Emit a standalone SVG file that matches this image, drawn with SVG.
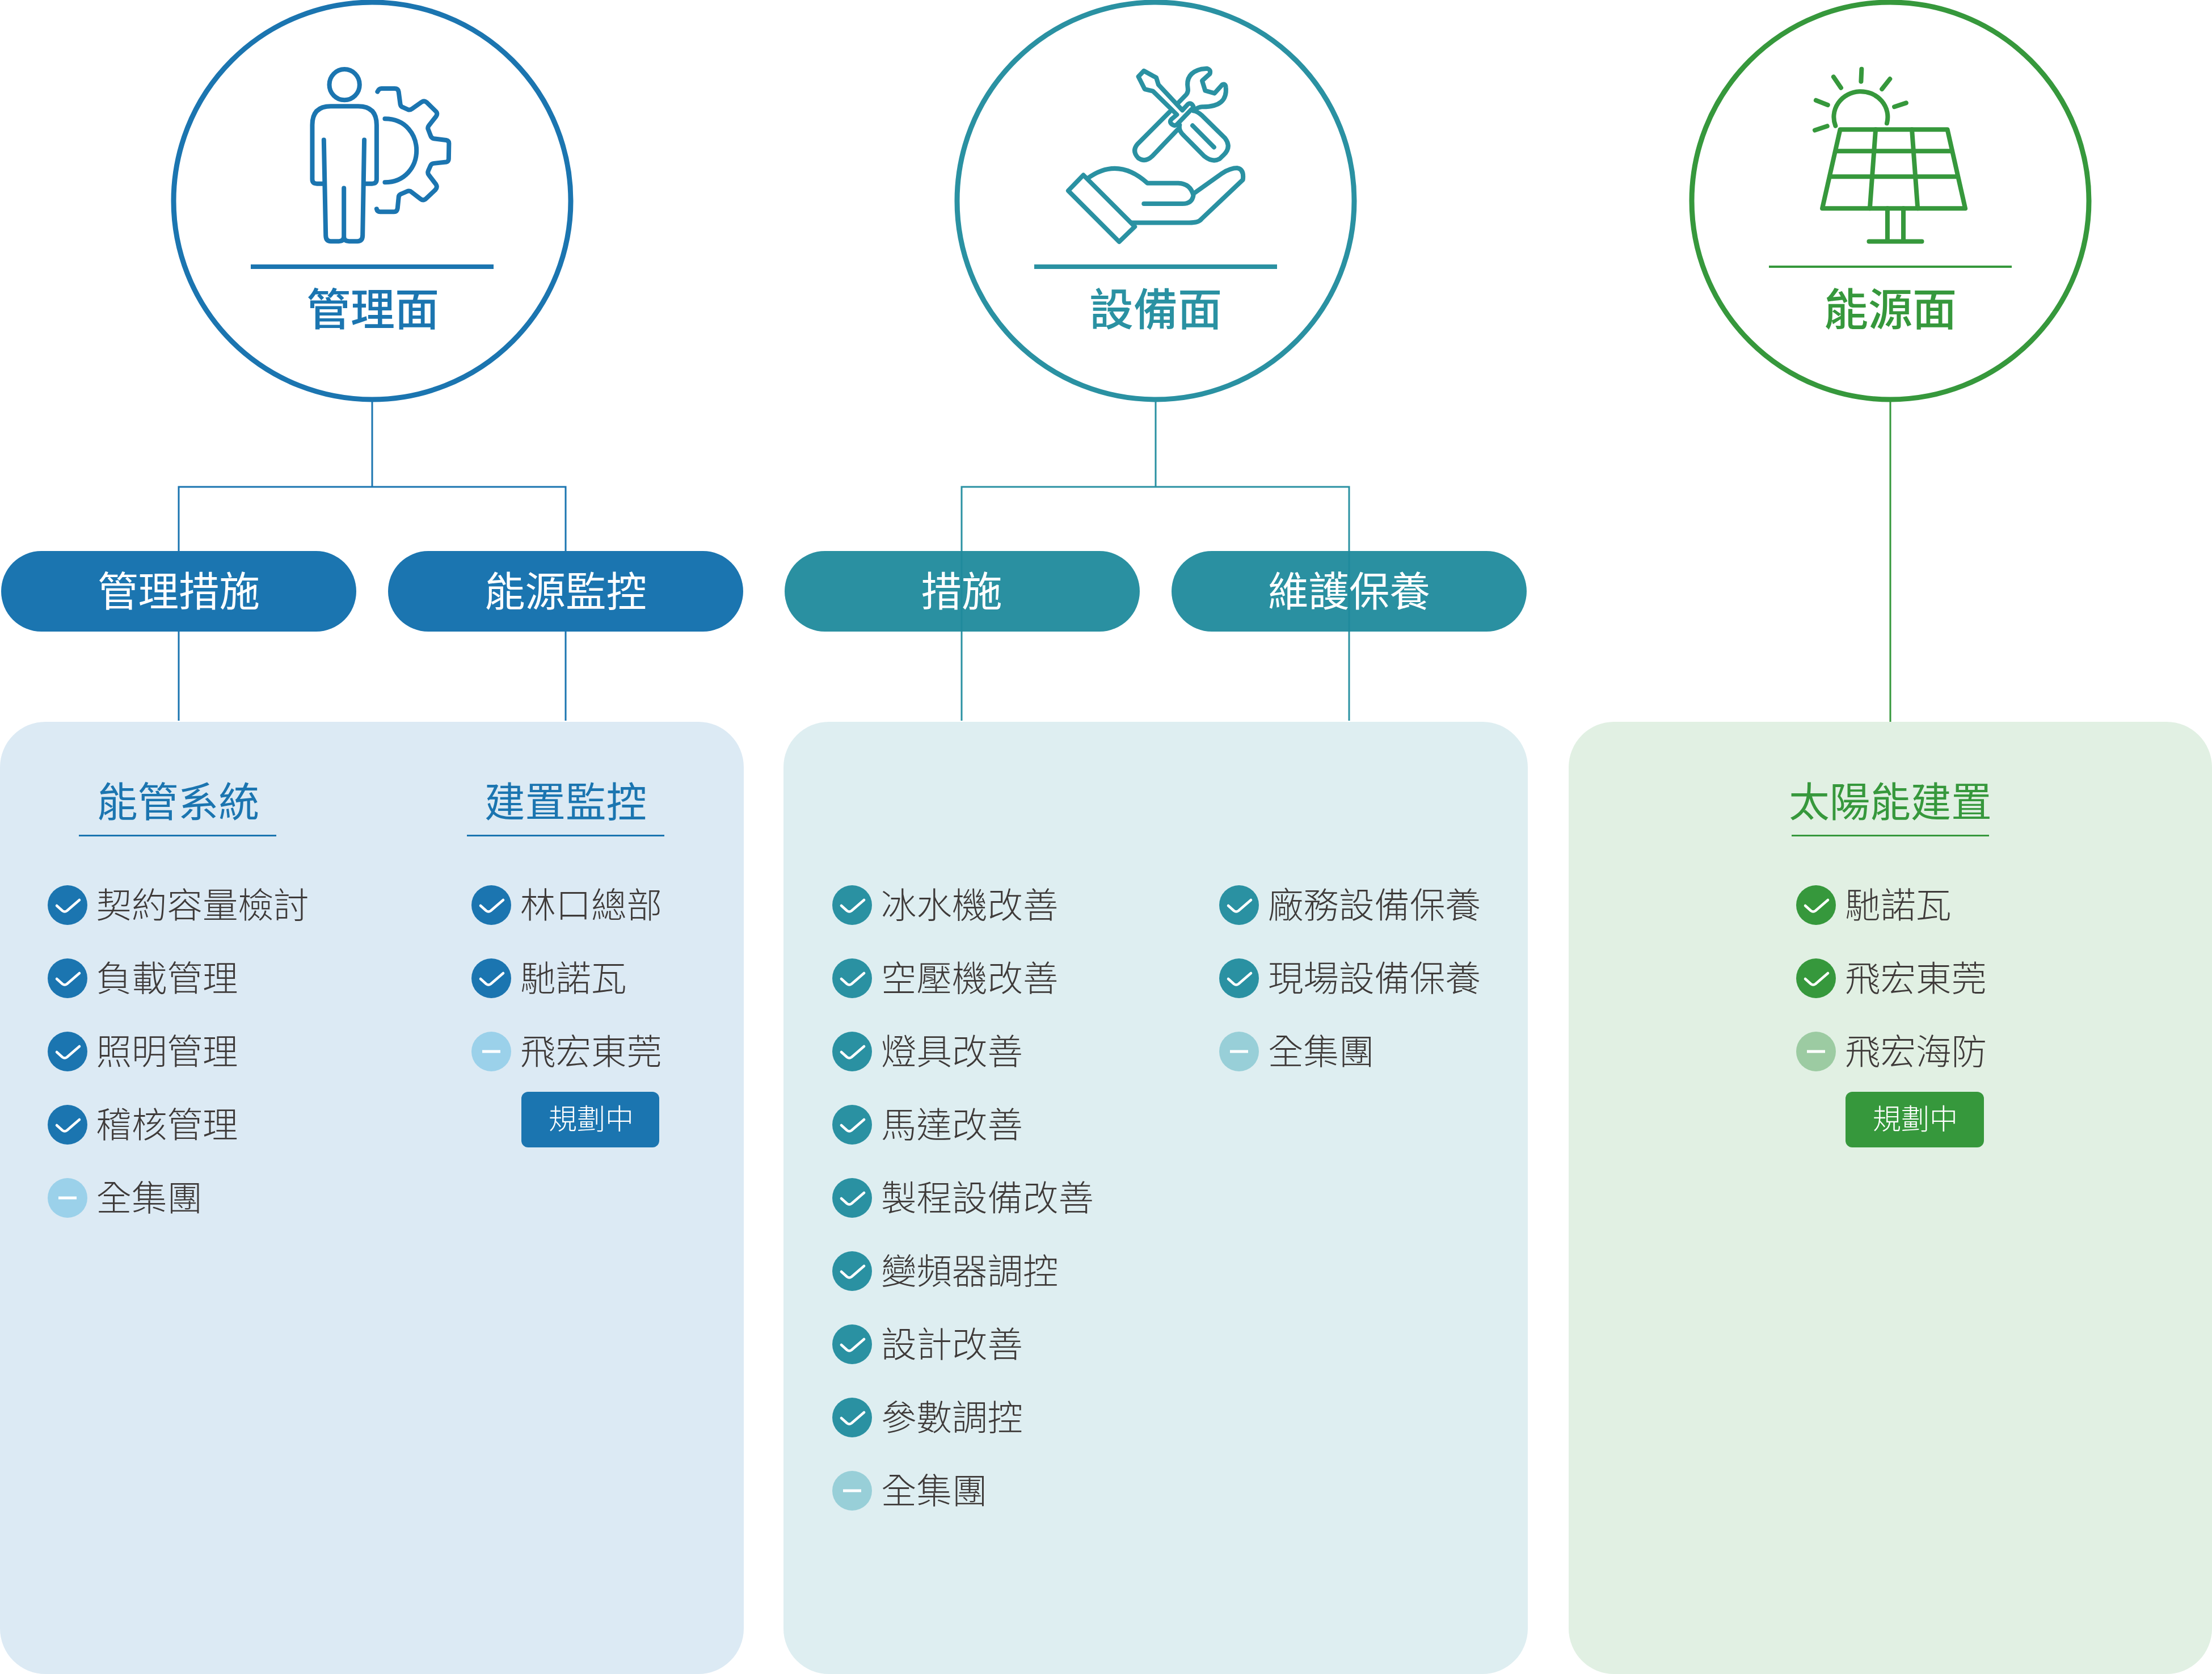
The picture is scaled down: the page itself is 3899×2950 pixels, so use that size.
<svg xmlns="http://www.w3.org/2000/svg" width="3899" height="2950" viewBox="0 0 3899 2950">
<style>
text{font-family:"Noto Sans CJK TC","Noto Sans CJK SC",sans-serif}
.title{font-size:78px;font-weight:500;text-anchor:middle}
.pilltx{font-size:71.5px;font-weight:400;fill:#fff;text-anchor:middle}
.head{font-size:71.5px;font-weight:400;text-anchor:middle}
.item{font-size:62.5px;font-weight:300;fill:#3e3a39}
.tagtx{font-size:50px;font-weight:300;fill:#fff;text-anchor:middle}
.blue{fill:#1b75b0}.teal{fill:#2a91a2}.green{fill:#36983c}
.tealpill{fill:#1f8a9c;fill-opacity:.95}
.lblue{fill:#9bd1ea}.lteal{fill:#98cfd8}.lgreen{fill:#9ccba2}
.ring{fill:#fff;stroke-width:9}
.s-blue{stroke:#1b75b0}.s-teal{stroke:#2a91a2}.s-green{stroke:#36983c}
.conn{fill:none;stroke-width:3}
.icon{fill:none;stroke-width:8;stroke-linecap:round;stroke-linejoin:round}
.icon *{vector-effect:non-scaling-stroke}
.glyph{fill:none;stroke:#fff;stroke-width:4.5;stroke-linecap:round;stroke-linejoin:round}
</style>
<defs>
<g id="chk"><path class="glyph" d="M-19 1L-9 10Q-5 13 -1 10L21 -9"/></g>
<rect id="min" x="-16" y="-2.5" width="32" height="5" fill="#fff"/>
</defs>
<g id="connectors">
<path class="conn s-blue" d="M656 708V858M315 1270V858H997V1270"/>
<path class="conn s-teal" d="M2037 708V858M1695 1270V858H2378V1270"/>
<path class="conn s-green" d="M3332 708V1272"/>
</g>
<g id="panel-mgmt"><rect x="0" y="1272" width="1311" height="1678" rx="80" fill="#dceaf4"/></g>
<g id="panel-equip"><rect x="1381" y="1272" width="1312" height="1678" rx="80" fill="#deeef1"/></g>
<g id="panel-energy"><rect x="2765" y="1272" width="1134" height="1678" rx="80" fill="#e1f0e3"/></g>
<g id="node-mgmt">
<circle class="ring s-blue" cx="656" cy="354" r="350"/>
<g class="icon s-blue" transform="translate(280 0) scale(.4847 .4591)">
<ellipse cx="675" cy="325" rx="55" ry="59"/>
<path d="M596 705H575Q558 705 558 688V480Q558 408 625 408H725Q792 408 792 480V688Q792 705 775 705H752"/>
<path d="M600 537L607 905Q608 926 625 926H655Q673 926 673 908V722M747 537L741 905Q740 926 722 926H692Q673 926 673 908"/>
<path d="M795 352Q800 340 810 340H858Q870 340 872 352L878 400Q880 410 888 412L905 420Q913 424 920 418L955 392Q965 385 973 392L1008 428Q1015 436 1008 447L982 482Q976 490 980 498L988 520Q991 530 1000 532L1045 538Q1055 540 1055 550L1054 610Q1054 620 1045 622L1000 627Q991 628 988 636L980 655Q976 665 982 672L1008 708Q1014 718 1006 728L972 762Q962 772 952 764L920 738Q912 730 902 735L882 744Q872 748 872 758L868 800Q866 813 855 813H805Q794 813 792 802"/>
<path d="M822 456C900 456 937 520 937 578C937 640 895 700 822 700"/>
</g>
<rect class="blue" x="442" y="466" width="428" height="8"/>
<text class="title blue" x="657" y="574">管理面</text>
</g>
<g id="node-equip">
<circle class="ring s-teal" cx="2037" cy="354" r="350"/>
<g class="icon s-teal" transform="translate(1660 0) scale(.4847 .4591)">
<path d="M875 423L788 325L780 298L735 272L715 294L738 342L768 350L855 440L835 458Q826 468 838 478Q848 485 855 478L908 420Q918 412 913 405Q905 392 895 400L875 423"/>
<path d="M860 395L890 362Q897 352 895 340Q885 280 945 265L965 263Q980 268 975 283L947 310L958 348L992 358L1020 325Q1032 320 1033 335Q1040 410 950 410Q935 408 915 425"/>
<path d="M828 430L712 553Q690 580 715 607Q740 625 765 600L858 497"/>
<path d="M915 425Q930 428 945 442L1030 530Q1055 565 1025 595L1010 610Q985 625 955 600L880 520Q860 500 865 480M912 482L990 565"/>
<path d="M515 672L460 732L645 928L702 870Z"/>
<path d="M530 685Q640 600 748 703H860Q905 705 915 750Q910 782 875 782H735"/>
<path d="M920 740L1020 665Q1050 645 1075 645Q1100 650 1095 690L945 840Q935 855 900 855H690"/>
</g>
<rect class="teal" x="1823" y="466" width="428" height="8"/>
<text class="title teal" x="2037" y="574">設備面</text>
</g>
<g id="node-energy">
<circle class="ring s-green" cx="3332" cy="354" r="350"/>
<g class="icon s-green" transform="translate(2960 0) scale(.4847 .4591)">
<path d="M568 483A98 98 0 1 1 755 473"/>
<path d="M663 265L661 313M561 295L588 337M766 303L737 342M497 385L540 403M825 395L782 410M538 484L493 500"/>
<path d="M585 497H975L1040 800H520Z"/>
<path d="M572 580H990M550 678H1010M714 497L693 800M846 497L867 800"/>
<path d="M757 800V925M815 800V925M690 927H882"/>
</g>
<rect class="green" x="3118" y="468" width="428" height="4"/>
<text class="title green" x="3332" y="574">能源面</text>
</g>
<g id="pill-mgmt-measures"><rect class="blue" x="2" y="971" width="626" height="142" rx="71"/><text class="pilltx" x="315" y="1068">管理措施</text></g>
<g id="pill-energy-monitor"><rect class="blue" x="684" y="971" width="626" height="142" rx="71"/><text class="pilltx" x="997" y="1068">能源監控</text></g>
<g id="pill-measures"><rect class="tealpill" x="1383" y="971" width="626" height="142" rx="71"/><text class="pilltx" x="1695" y="1068">措施</text></g>
<g id="pill-maintenance"><rect class="tealpill" x="2065" y="971" width="626" height="142" rx="71"/><text class="pilltx" x="2378" y="1068">維護保養</text></g>
<g id="head-ems"><text class="head blue" x="314" y="1439">能管系統</text><rect class="blue" x="139" y="1471" width="348" height="3"/></g>
<g id="head-monitor"><text class="head blue" x="997" y="1439">建置監控</text><rect class="blue" x="823" y="1471" width="348" height="3"/></g>
<g id="head-solar"><text class="head green" x="3332" y="1439">太陽能建置</text><rect class="green" x="3158" y="1471" width="348" height="3"/></g>
<g id="list-ems">
<g id="m1"><circle class="blue" cx="119" cy="1595" r="35"/><use href="#chk" x="119" y="1595"/><text class="item" x="169.500" y="1618">契約容量檢討</text></g>
<g id="m2"><circle class="blue" cx="119" cy="1724" r="35"/><use href="#chk" x="119" y="1724"/><text class="item" x="169.500" y="1747">負載管理</text></g>
<g id="m3"><circle class="blue" cx="119" cy="1853" r="35"/><use href="#chk" x="119" y="1853"/><text class="item" x="169.500" y="1875.500">照明管理</text></g>
<g id="m4"><circle class="blue" cx="119" cy="1982" r="35"/><use href="#chk" x="119" y="1982"/><text class="item" x="169.500" y="2004.500">稽核管理</text></g>
<g id="m5"><circle class="lblue" cx="119" cy="2111" r="35"/><use href="#min" x="119" y="2111"/><text class="item" x="169.500" y="2133.500">全集團</text></g>
</g>
<g id="list-monitor">
<g id="n1"><circle class="blue" cx="866" cy="1595" r="35"/><use href="#chk" x="866" y="1595"/><text class="item" x="917" y="1618">林口總部</text></g>
<g id="n2"><circle class="blue" cx="866" cy="1724" r="35"/><use href="#chk" x="866" y="1724"/><text class="item" x="917" y="1747">馳諾瓦</text></g>
<g id="n3"><circle class="lblue" cx="866" cy="1853" r="35"/><use href="#min" x="866" y="1853"/><text class="item" x="917" y="1875.500">飛宏東莞</text></g>
<g id="n4"><rect class="blue" x="919" y="1924" width="243" height="98" rx="12"/><text class="tagtx" x="1042" y="1990">規劃中</text></g>
</g>
<g id="list-measures">
<g id="e1"><circle class="teal" cx="1502" cy="1595" r="35"/><use href="#chk" x="1502" y="1595"/><text class="item" x="1553" y="1618">冰水機改善</text></g>
<g id="e2"><circle class="teal" cx="1502" cy="1724" r="35"/><use href="#chk" x="1502" y="1724"/><text class="item" x="1553" y="1747">空壓機改善</text></g>
<g id="e3"><circle class="teal" cx="1502" cy="1853" r="35"/><use href="#chk" x="1502" y="1853"/><text class="item" x="1553" y="1875.500">燈具改善</text></g>
<g id="e4"><circle class="teal" cx="1502" cy="1982" r="35"/><use href="#chk" x="1502" y="1982"/><text class="item" x="1553" y="2004.500">馬達改善</text></g>
<g id="e5"><circle class="teal" cx="1502" cy="2111" r="35"/><use href="#chk" x="1502" y="2111"/><text class="item" x="1553" y="2133.500">製程設備改善</text></g>
<g id="e6"><circle class="teal" cx="1502" cy="2240" r="35"/><use href="#chk" x="1502" y="2240"/><text class="item" x="1553" y="2262.500">變頻器調控</text></g>
<g id="e7"><circle class="teal" cx="1502" cy="2369" r="35"/><use href="#chk" x="1502" y="2369"/><text class="item" x="1553" y="2391.500">設計改善</text></g>
<g id="e8"><circle class="teal" cx="1502" cy="2498" r="35"/><use href="#chk" x="1502" y="2498"/><text class="item" x="1553" y="2520.500">參數調控</text></g>
<g id="e9"><circle class="lteal" cx="1502" cy="2627" r="35"/><use href="#min" x="1502" y="2627"/><text class="item" x="1553" y="2649.500">全集團</text></g>
</g>
<g id="list-maintenance">
<g id="f1"><circle class="teal" cx="2184" cy="1595" r="35"/><use href="#chk" x="2184" y="1595"/><text class="item" x="2235" y="1618">廠務設備保養</text></g>
<g id="f2"><circle class="teal" cx="2184" cy="1724" r="35"/><use href="#chk" x="2184" y="1724"/><text class="item" x="2235" y="1747">現場設備保養</text></g>
<g id="f3"><circle class="lteal" cx="2184" cy="1853" r="35"/><use href="#min" x="2184" y="1853"/><text class="item" x="2235" y="1875.500">全集團</text></g>
</g>
<g id="list-solar">
<g id="s1"><circle class="green" cx="3201" cy="1595" r="35"/><use href="#chk" x="3201" y="1595"/><text class="item" x="3252" y="1618">馳諾瓦</text></g>
<g id="s2"><circle class="green" cx="3201" cy="1724" r="35"/><use href="#chk" x="3201" y="1724"/><text class="item" x="3252" y="1747">飛宏東莞</text></g>
<g id="s3"><circle class="lgreen" cx="3201" cy="1853" r="35"/><use href="#min" x="3201" y="1853"/><text class="item" x="3252" y="1875.500">飛宏海防</text></g>
<g id="s4"><rect class="green" x="3253" y="1924" width="244" height="98" rx="12"/><text class="tagtx" x="3376" y="1990">規劃中</text></g>
</g>
</svg>
